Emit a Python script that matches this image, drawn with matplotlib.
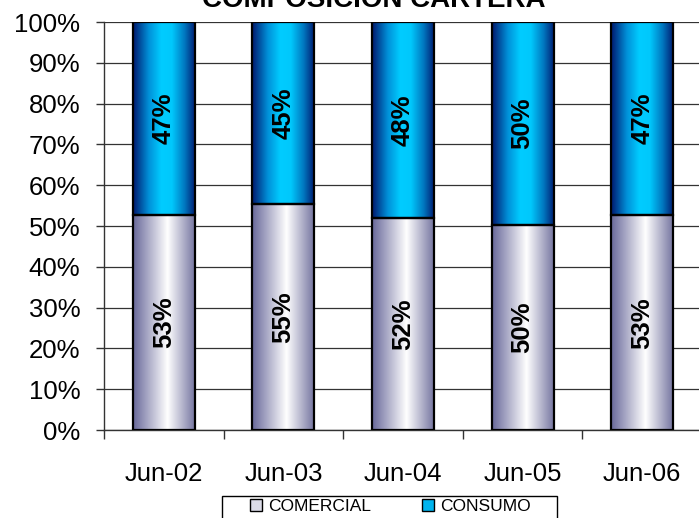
import numpy as np
import matplotlib
matplotlib.use('Agg')
import matplotlib.pyplot as plt
from matplotlib.colors import LinearSegmentedColormap
from matplotlib.patches import Patch, Rectangle

# data
periodos = ['Jun-02', 'Jun-03', 'Jun-04', 'Jun-05', 'Jun-06']
comercial = [52.7, 55.3, 51.9, 50.2, 52.6]
consumo = [47.3, 44.7, 48.1, 49.8, 47.4]

plt.rcParams['font.family'] = ['Liberation Sans', 'DejaVu Sans']

# horizontal gradients like the excel fills
cm_comercial = LinearSegmentedColormap.from_list(
    'com', [(0, '#68689a'), (0.55, '#ffffff'), (1, '#72729e')])
cm_consumo = LinearSegmentedColormap.from_list(
    'con', [(0, '#00186e'), (0.25, '#0090d8'), (0.45, '#00ccff'),
            (0.62, '#00c8fc'), (0.82, '#0078c0'), (1, '#00186e')])
grad = np.linspace(0, 1, 256).reshape(1, -1)

fig = plt.figure(figsize=(6.99, 5.18), dpi=100)
ax = fig.add_axes([104 / 699, 1 - 430 / 518, 598 / 699, 408 / 518])

x = np.arange(len(periodos))
w = 0.52

for i in range(len(periodos)):
    x0, x1 = x[i] - w / 2, x[i] + w / 2
    ax.imshow(grad, extent=[x0, x1, 0, comercial[i]], aspect='auto',
              cmap=cm_comercial, zorder=2, interpolation='bilinear')
    ax.imshow(grad, extent=[x0, x1, comercial[i], comercial[i] + consumo[i]],
              aspect='auto', cmap=cm_consumo, zorder=2, interpolation='bilinear')

ax.bar(x, comercial, w, fill=False, edgecolor='black', linewidth=1.6, zorder=3)
ax.bar(x, consumo, w, bottom=comercial, fill=False, edgecolor='black',
       linewidth=1.6, zorder=3)

for i in range(len(periodos)):
    ax.text(x[i], comercial[i] / 2, '{0:.0f}%'.format(comercial[i]),
            rotation=90, ha='center', va='center', fontsize=18.5,
            fontweight='bold', zorder=4)
    ax.text(x[i], comercial[i] + consumo[i] / 2, '{0:.0f}%'.format(consumo[i]),
            rotation=90, ha='center', va='center', fontsize=18.5,
            fontweight='bold', zorder=4)

ax.set_xlim(-0.5, len(periodos) - 0.5)
ax.set_ylim(0, 100)
ax.set_yticks(np.arange(0, 101, 10))
ax.set_yticklabels(['{0}%'.format(v) for v in range(0, 101, 10)])
ax.yaxis.grid(True, color='#333333', linewidth=0.9)
ax.set_axisbelow(True)

# ticks between categories, labels at the centres
ax.set_xticks(np.arange(-0.5, len(periodos), 1.0))
ax.set_xticklabels([])
ax.set_xticks(x, minor=True)
ax.set_xticklabels(periodos, minor=True)
ax.tick_params(axis='x', which='major', direction='out', length=6.5,
               width=1, color='#333333')
ax.tick_params(axis='x', which='minor', length=0, pad=23, labelsize=18.5)
ax.tick_params(axis='y', direction='out', length=6, width=1,
               color='#333333', labelsize=18.5, pad=11)

for s in ['top', 'right']:
    ax.spines[s].set_visible(False)
ax.spines['left'].set_color('#333333')
ax.spines['bottom'].set_color('#333333')
ax.spines['left'].set_linewidth(1)
ax.spines['bottom'].set_linewidth(1)

fig.text(374 / 699, 1 - 7 / 518, 'COMPOSICION CARTERA', ha='center',
         va='baseline', fontsize=20, fontweight='bold')

handles = [Patch(facecolor='#dcdce8', edgecolor='black', linewidth=1),
           Patch(facecolor='#00b4ee', edgecolor='black', linewidth=1)]
leg = fig.legend(handles, ['COMERCIAL', 'CONSUMO'], loc='upper left',
                 bbox_to_anchor=(250 / 699, 1 - 499 / 518), ncol=2,
                 fontsize=12.5, frameon=False,
                 handlelength=0.7, handleheight=0.7, handletextpad=0.35,
                 columnspacing=2.9, borderpad=0, borderaxespad=0)

# legend box, runs off the bottom edge like the original
fig.patches.append(Rectangle((222 / 699, -0.05), 335 / 699, 0.05 + 22 / 518,
                             transform=fig.transFigure, fill=False,
                             edgecolor='black', linewidth=1))

plt.savefig('out.png', dpi=100)
plt.close()
